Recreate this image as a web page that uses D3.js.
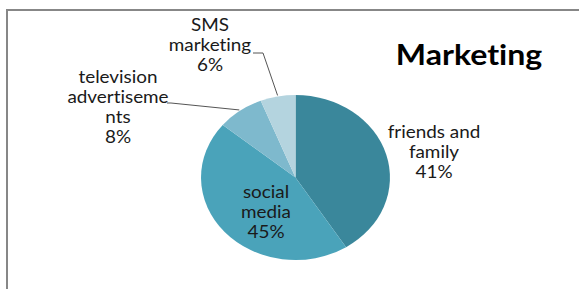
<!DOCTYPE html>
<html lang="en">
<head>
  <meta charset="UTF-8">
  <title>Marketing</title>
  <script src="https://d3js.org/d3.v7.min.js"></script>
  <style>
    html, body {
      margin: 0;
      background-color: #ffffff;
      overflow: hidden;
      font-family: Lato, 'Open Sans', sans-serif;
    }
    text {
      font-variant-ligatures: none;
    }
  </style>
</head>
<body>
  <div id="chart"></div>

  <script type="text/javascript">
    // data
    const categories = ['friends and family', 'social media', 'television advertisements', 'SMS marketing']
    const values = [41, 45, 8, 6]
    const colors = ['#3a879b', '#4aa3ba', '#7eb9cd', '#b4d4df']

    // how Excel wrapped the labels
    const labelLines = [
      ['friends and', 'family'],
      ['social', 'media'],
      ['television', 'advertiseme', 'nts'],
      ['SMS', 'marketing'],
    ]
    // label anchor (centre x, first baseline)
    const labelPos = [[434, 138], [266, 198], [118, 83], [210, 31]]

    const width = 579
    const height = 289
    const stretch = 1.145 // the original image is stretched sideways
    const cx = 295.5
    const cy = 177.5
    const radius = 82.5
    const lineGap = 20

    const svg = d3.select('#chart').append('svg')
      .attr('width', width)
      .attr('height', height)

    // chart frame (only left and top edges show)
    svg.append('rect')
      .attr('x', 7)
      .attr('y', 10)
      .attr('width', width + 20)
      .attr('height', height + 20)
      .attr('fill', 'none')
      .attr('stroke', '#878787')
      .attr('stroke-width', 2)

    const pie = d3.pie().sort(null).value(d => d.value)
    const arcs = pie(categories.map((c, i) => ({ name: c, value: values[i] })))
    const arc = d3.arc().innerRadius(0).outerRadius(radius)

    svg.append('g')
      .attr('transform', `translate(${cx},${cy}) scale(${stretch},1)`)
      .selectAll('path')
      .data(arcs)
      .enter()
      .append('path')
      .attr('d', arc)
      .attr('fill', (d, i) => colors[i])

    // leader lines for the two small slices
    const edge = (d, r) => {
      const a = (d.startAngle + d.endAngle) / 2
      return [cx + Math.sin(a) * r * stretch, cy - Math.cos(a) * r]
    }
    const leaders = [
      { i: 3, pts: [[253, 53], [263, 53]] },
      { i: 2, pts: [[167, 103], [171, 103]] },
    ]
    leaders.forEach(l => {
      const p = edge(arcs[l.i], radius + 1)
      svg.append('path')
        .attr('d', d3.line()([...l.pts, p]))
        .attr('fill', 'none')
        .attr('stroke', '#555555')
        .attr('stroke-width', 1)
    })

    // data labels
    arcs.forEach((d, i) => {
      const lines = labelLines[i].concat([Math.round(d.value) + '%'])
      const g = svg.append('g')
        .attr('transform', `translate(${labelPos[i][0]},${labelPos[i][1]}) scale(${stretch},1)`)
      lines.forEach((t, j) => {
        g.append('text')
          .text(t)
          .attr('x', 0)
          .attr('y', j * lineGap)
          .style('text-anchor', 'middle')
          .style('font-size', '16.5px')
          .style('fill', '#1a1a1a')
      })
    })

    // title
    svg.append('g')
      .attr('transform', `translate(469,65) scale(${stretch},1)`)
      .append('text')
      .text('Marketing')
      .style('text-anchor', 'middle')
      .style('font-size', '28px')
      .style('font-weight', 700)
      .style('fill', '#000000')
  </script>
</body>
</html>
